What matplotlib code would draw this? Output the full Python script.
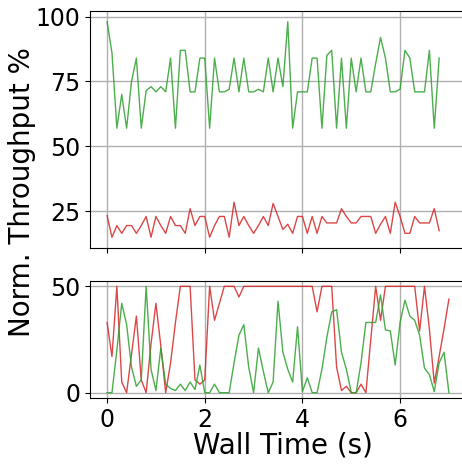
import numpy as np
import matplotlib
matplotlib.use('Agg')
import matplotlib.pyplot as plt

# sample interval of the measurements (s)
dt = 0.1

# upper panel: throughput share per sample
green_top = [98, 86, 57, 70, 57, 75, 84, 57, 71.5, 73,
             71, 73, 71, 84, 57, 87, 87, 71, 71, 84,
             84, 57, 84, 71, 71, 72, 84, 71, 84, 71,
             71, 72, 71, 84, 71, 84, 73, 98, 57, 71,
             71, 71, 84, 84, 57, 85, 87, 57, 84, 57,
             84, 71, 84, 71, 71, 82, 92, 84, 71, 71,
             72, 87, 84, 71, 71, 71, 87, 57, 84]
red_top = [23.3, 15, 19.5, 16.5, 19.5, 19.5, 16.5, 19.5, 23, 15,
           23, 19.5, 16.5, 23, 19.5, 19.5, 16.5, 26, 19.5, 23,
           23, 15, 19.5, 23, 23, 15, 28.5, 19.5, 23, 19.5,
           16.5, 19.5, 23, 19.5, 28, 23, 18, 20, 16.5, 23,
           23, 16.5, 23, 16.5, 23, 20.5, 20.5, 20.5, 26, 23,
           20.5, 20.5, 23, 23, 23, 16.5, 20, 23, 16.5, 28.5,
           23, 16.5, 16.5, 23, 20.5, 20.5, 20.5, 26, 17.5]

# lower panel
red_bot = [33, 17, 50, 5, 0, 18, 36, 6, 0, 23,
           42, 22, 0, 14, 33, 50, 50, 50, 6, 4,
           6, 50, 34, 42, 50, 50, 50, 45, 50, 50,
           50, 50, 50, 50, 50, 50, 50, 50, 50, 50,
           50, 50, 50, 38, 50, 50, 50, 12, 1, 3,
           0, 0, 4, 0, 25, 50, 34, 50, 50, 50,
           50, 50, 50, 50, 29, 50, 30, 4.5, 17, 30,
           44]
green_bot = [0, 0, 20, 42, 32, 12, 3, 6, 50, 11,
             1, 21, 4, 2, 1, 4, 1, 5, 1.5, 13,
             0, 0, 4, 0, 0, 0, 14, 27, 32, 12,
             0, 21, 10, 0, 5, 43, 19, 11, 5, 31,
             0.5, 7, 0, 0, 11, 26, 38, 39, 19, 11,
             0, 0, 14, 33, 33, 33, 46, 29.5, 29, 13,
             33, 43.5, 36, 34, 27, 11.5, 8.5, 0.5, 14, 19,
             0]

t_top = [i * dt for i in range(len(green_top))]
t_bot = [i * dt for i in range(len(green_bot))]

plt.rcParams['font.size'] = 17

fig = plt.figure(figsize=(4.62, 4.69), dpi=100)
ax1 = fig.add_axes([90 / 462, 1 - 248 / 469, 376 / 462, 237 / 469])
ax2 = fig.add_axes([90 / 462, 1 - 398 / 469, 376 / 462, 117 / 469], sharex=ax1)

ax1.plot(t_top, green_top, color='tab:green', lw=1, alpha=0.85)
ax1.plot(t_top, red_top, color='tab:red', lw=1, alpha=0.85)
ax2.plot(t_bot, red_bot, color='tab:red', lw=1, alpha=0.85)
ax2.plot(t_bot, green_bot, color='tab:green', lw=1, alpha=0.85)

ax1.set_yticks([25, 50, 75, 100])
ax2.set_yticks([0, 50])
ax2.set_xticks([0, 2, 4, 6])
ax1.tick_params(labelbottom=False)
for ax in (ax1, ax2):
    ax.grid(True, color='#b0b0b0', lw=1)

fig.text(283 / 462, 1 - 445 / 469, 'Wall Time (s)', ha='center', va='center',
         fontsize=20)
fig.text(22 / 462, 1 - 192 / 469, 'Norm. Throughput %', rotation=90,
         ha='center', va='center', fontsize=20)

fig.savefig('out.png', dpi=100)
